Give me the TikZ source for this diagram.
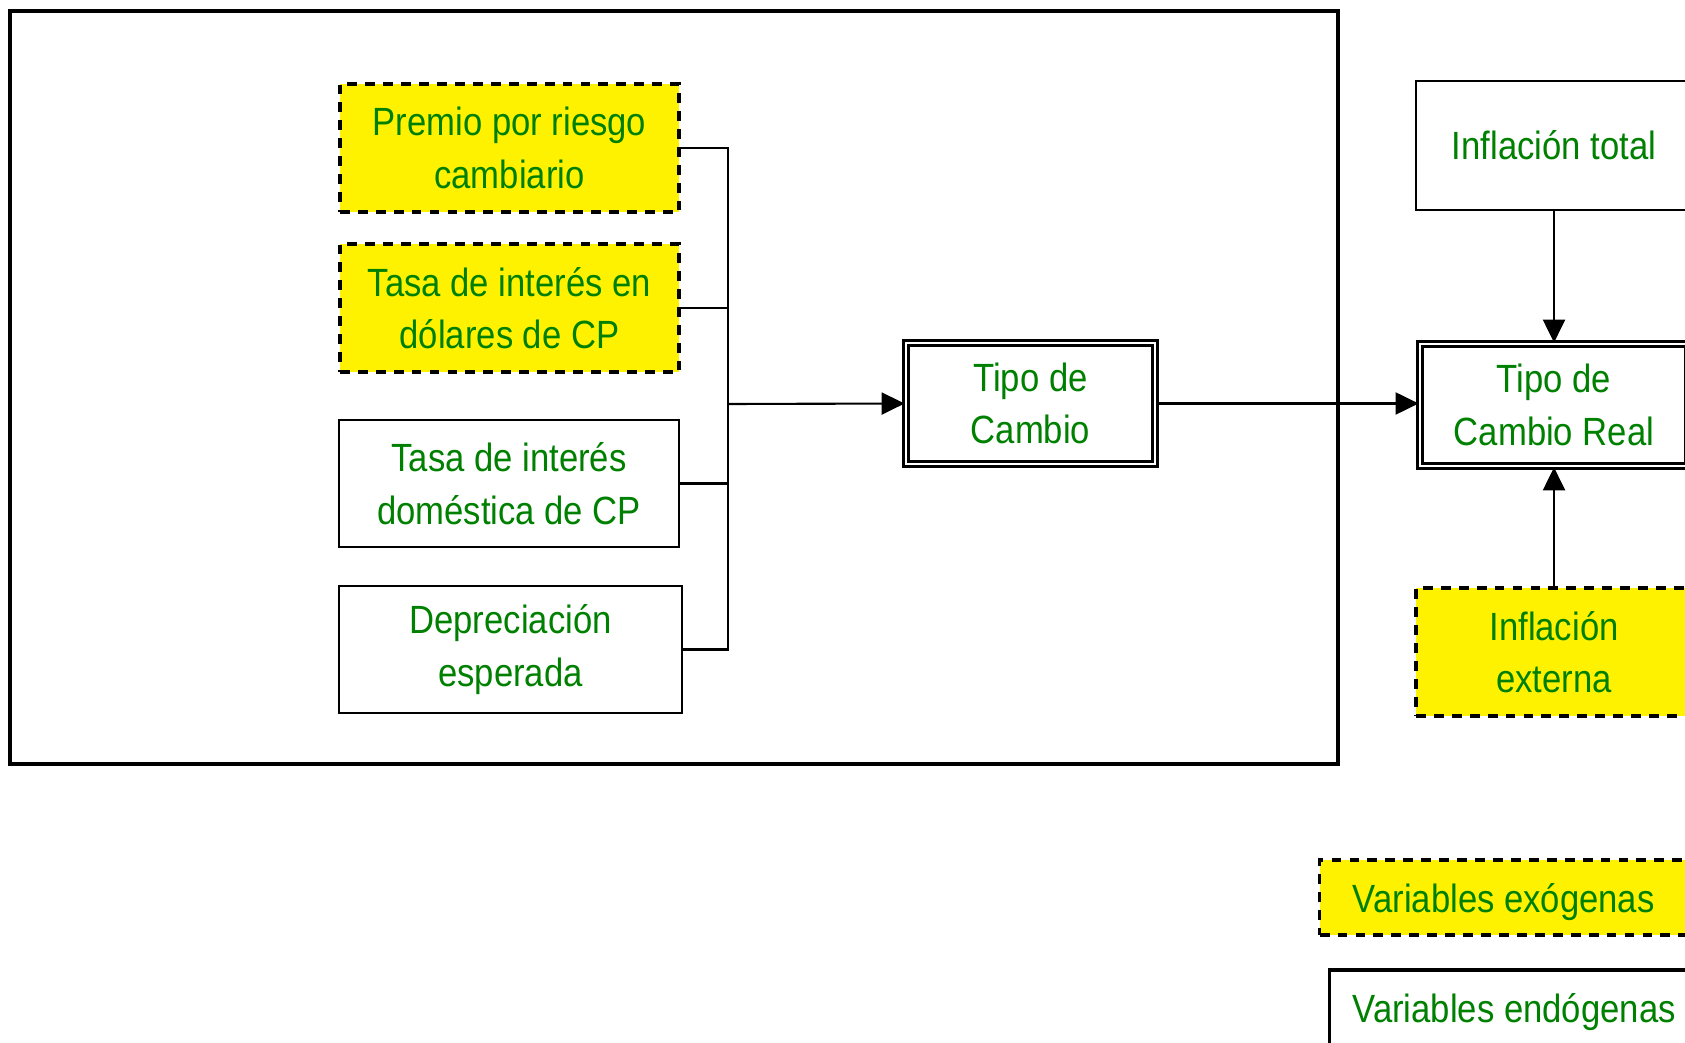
\documentclass[tikz,border=0pt]{standalone}
\usepackage{fontspec}
\setmainfont{Liberation Sans}[FakeStretch=0.88]
\usepackage{tikz}
\usetikzlibrary{arrows.meta}
\definecolor{txtgreen}{RGB}{0,128,0}

\begin{document}
\begin{tikzpicture}[x=0.01cm,y=-0.01cm,
    box/.style={draw,line width=0.6pt,text=txtgreen,align=center,
        font=\fontsize{11.2pt}{14.9pt}\selectfont,inner sep=0pt},
    exo/.style={box,fill=yellow,line width=0.95pt,dash pattern=on 2.8pt off 2.3pt},
    dbl/.style={box,double,line width=0.75pt,double distance=0.75pt},
    arr/.style={-{Triangle[length=0.23cm,width=0.22cm]},line width=0.6pt}]
\useasboundingbox (0,0) rectangle (1685,1043);
\draw[line width=1.4pt] (10,11) rectangle (1338,764);
% causas del tipo de cambio
\node[exo,minimum width=3.39cm,minimum height=1.28cm] (premio) at (509.5,148) {Premio por riesgo\\cambiario};
\node[exo,minimum width=3.39cm,minimum height=1.28cm] (tasausd) at (509.5,308) {Tasa de interés en\\dólares de CP};
\node[box,minimum width=3.40cm,minimum height=1.27cm] (tasadom) at (509,483.5) {Tasa de interés\\doméstica de CP};
\node[box,minimum width=3.43cm,minimum height=1.27cm] (deprec) at (510.5,649.5) {Depreciación\\esperada};
\node[dbl,minimum width=2.49cm,minimum height=1.21cm] (tc) at (1030.5,403.5) {Tipo de\\Cambio};
% lado derecho
\node[box,minimum width=2.76cm,minimum height=1.29cm] (inftot) at (1554,145.5) {Inflación total};
\node[dbl,minimum width=2.68cm,minimum height=1.22cm] (tcr) at (1554,405) {Tipo de\\Cambio Real};
\node[exo,minimum width=2.76cm,minimum height=1.28cm] (infext) at (1554,652) {Inflación\\externa};
\coordinate (bus) at (728,404);
\foreach \n in {premio,tasausd,tasadom,deprec}
    \draw[line width=0.6pt] (\n.east) -| (bus);
\draw[arr] (bus) -- (tc.west);
\draw[arr] (tc.east) -- (tc.east -| tcr.west);
\draw[arr] (inftot) -- (tcr);
\draw[arr] (infext) -- (tcr);
% leyenda
\node[exo,anchor=west,minimum height=0.75cm,inner xsep=0.33cm,text depth=0pt] (legexo) at (1318,897.5) {Variables exógenas};
\node[box,anchor=west,minimum height=0.75cm,inner xsep=0.23cm,line width=0.9pt,text depth=0pt] (legendo) at (1328,1007.5) {Variables endógenas};
\end{tikzpicture}
\end{document}
